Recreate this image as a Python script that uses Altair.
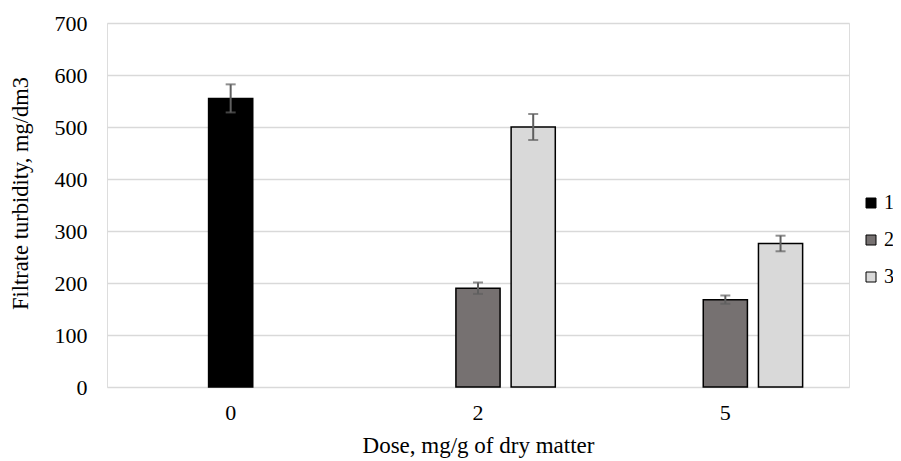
import altair as alt
import pandas as pd

doses = ["0", "2", "5"]
series_names = ["1", "2", "3"]
series_values = {
    "1": [555, None, None],
    "2": [None, 190, 168],
    "3": [None, 500, 276],
}
series_errors = {
    "1": [27, None, None],
    "2": [None, 11, 8],
    "3": [None, 25, 15],
}
colors = ["#000000", "#767171", "#d9d9d9"]
# slot inside each dose group where the series bar is drawn
slot_of_series = {"1": "b", "2": "b", "3": "c"}

rows = []
for s in series_names:
    for i, d in enumerate(doses):
        v = series_values[s][i]
        if v is None:
            continue
        e = series_errors[s][i]
        rows.append({"dose": d, "series": s, "value": v,
                     "lo": v - e, "hi": v + e, "slot": slot_of_series[s]})
df = pd.DataFrame(rows)

FONT = "Liberation Serif"

x_enc = alt.X("dose:N", sort=doses,
              scale=alt.Scale(paddingInner=0, paddingOuter=0),
              axis=alt.Axis(title="Dose, mg/g of dry matter", labelAngle=0,
                            labelFontSize=22, titleFontSize=23,
                            labelPadding=15, titlePadding=11,
                            domain=False, ticks=False, grid=False,
                            labelColor="#000000", titleColor="#000000",
                            titleFontWeight="normal", labelFont=FONT, titleFont=FONT))
xoff = alt.XOffset("slot:N", scale=alt.Scale(domain=["a", "b", "c"],
                                              paddingInner=0.2, paddingOuter=0.84))

base = alt.Chart(df)

bars = base.mark_bar(stroke="#000000", strokeWidth=1.5).encode(
    x=x_enc,
    xOffset=xoff,
    y=alt.Y("value:Q",
            scale=alt.Scale(domain=[0, 700], nice=False),
            axis=alt.Axis(title="Filtrate turbidity, mg/dm3", values=list(range(0, 701, 100)),
                          labelFontSize=22, titleFontSize=22.5, labelPadding=20,
                          titleX=-75, titleY=170,
                          domain=False, ticks=False, grid=True, gridColor="#d9d9d9", gridWidth=1.5,
                          labelColor="#000000", titleColor="#000000",
                          titleFontWeight="normal", labelFont=FONT, titleFont=FONT)),
    color=alt.Color("series:N", scale=alt.Scale(domain=series_names, range=colors),
                    legend=alt.Legend(title=None, orient="none", legendX=754, legendY=170,
                                      symbolType="square", symbolSize=100,
                                      symbolStrokeColor="#000000", symbolStrokeWidth=1,
                                      labelFontSize=20, labelFont=FONT, labelColor="#000000",
                                      rowPadding=17, labelOffset=3, padding=0)),
)

err = base.mark_rule(color="#5f5f5f", strokeWidth=2).encode(
    x=alt.X("dose:N", sort=doses), xOffset=xoff,
    y="lo:Q", y2="hi:Q")
cap_lo = base.mark_tick(color="#5f5f5f", thickness=2, size=10, orient="horizontal").encode(
    x=alt.X("dose:N", sort=doses), xOffset=xoff, y="lo:Q")
cap_hi = base.mark_tick(color="#5f5f5f", thickness=2, size=10, orient="horizontal").encode(
    x=alt.X("dose:N", sort=doses), xOffset=xoff, y="hi:Q")

chart = alt.layer(bars, err, cap_lo, cap_hi).properties(
    width=742, height=364,
    autosize=alt.AutoSizeParams(type="none"),
    padding={"left": 99, "top": 15, "right": 44, "bottom": 74},
).configure_view(stroke=None).configure(font=FONT)

chart.save("out.html", embed_options={"renderer": "svg", "actions": False})
